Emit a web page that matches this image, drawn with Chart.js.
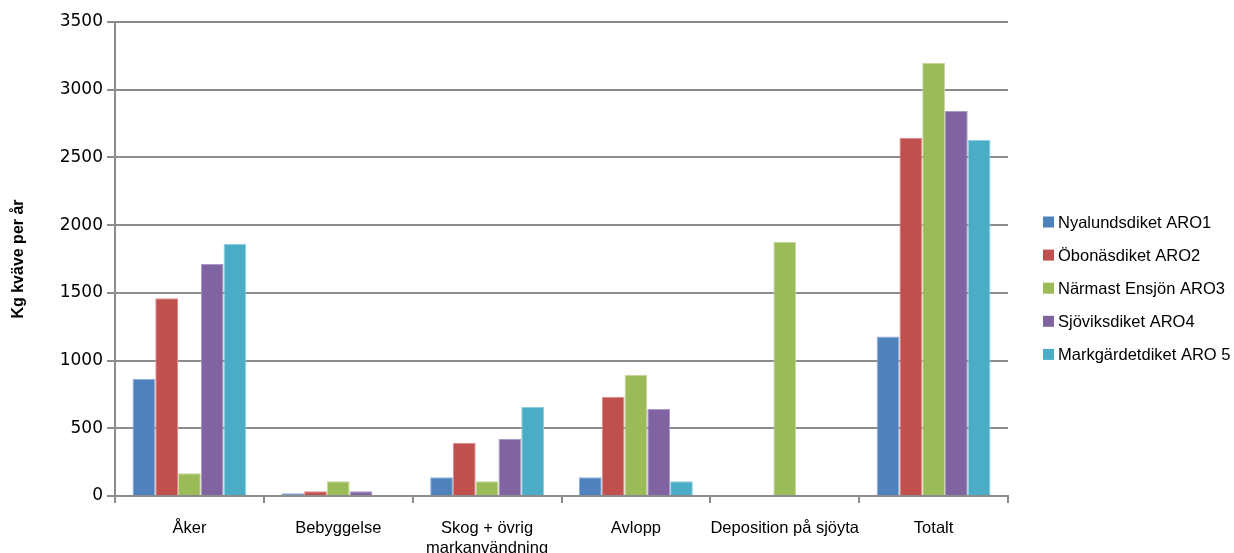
<!DOCTYPE html>
<html>
<head>
<meta charset="utf-8">
<script src="https://cdn.jsdelivr.net/npm/chart.js@4/dist/chart.umd.min.js"></script>
<style>
  html, body { margin: 0; padding: 0; background: #fff; }
  #wrap { width: 1234px; height: 553px; position: relative; }
</style>
</head>
<body>
<div id="wrap"><canvas id="c" width="1234" height="553"></canvas></div>
<script>
// Kväve (kg per år) per källa och delavrinningsområde
const categories = ['Åker', 'Bebyggelse', ['Skog + övrig', 'markanvändning'], 'Avlopp', 'Deposition på sjöyta', 'Totalt'];
const seriesNames = ['Nyalundsdiket ARO1', 'Öbonäsdiket ARO2', 'Närmast Ensjön ARO3', 'Sjöviksdiket ARO4', 'Markgärdetdiket ARO 5'];
const aro1 = [866, 20, 139, 139, 0, 1177];
const aro2 = [1461, 35, 391, 732, 0, 2645];
const aro3 = [168, 109, 109, 895, 1877, 3198];
const aro4 = [1713, 35, 420, 643, 0, 2842];
const aro5 = [1862, 0, 658, 109, 0, 2629];
const yTicks = [0, 500, 1000, 1500, 2000, 2500, 3000, 3500];
const yTitle = 'Kg kväve per år';

const fills = ['#4F81BD', '#C0504D', '#9BBB59', '#8064A2', '#4BACC6'];
const edges = ['#8fb0d8', '#dc8c8a', '#c4d99b', '#ab98c4', '#8fd0e0'];
const seriesValues = [aro1, aro2, aro3, aro4, aro5];

const gridGrey = '#8c8c8c';

// Legend drawn to the right of the plot, one row per series
const sideLegend = {
  id: 'sideLegend',
  afterDraw(chart) {
    const ctx = chart.ctx;
    ctx.save();
    ctx.font = '16.5px "Liberation Sans", Arial, sans-serif';
    ctx.textBaseline = 'middle';
    ctx.textAlign = 'left';
    chart.data.datasets.forEach((ds, i) => {
      const y = 222 + i * 33.1;
      ctx.fillStyle = ds.backgroundColor;
      ctx.fillRect(1043, y - 5.5, 11, 11);
      ctx.fillStyle = '#000';
      ctx.fillText(ds.label, 1058, y + 1);
    });
    ctx.restore();
  }
};

new Chart(document.getElementById('c'), {
  type: 'bar',
  data: {
    labels: categories,
    datasets: seriesNames.map((name, i) => ({
      label: name,
      data: seriesValues[i],
      backgroundColor: fills[i],
      borderColor: edges[i],
      borderWidth: 1,
      borderSkipped: 'bottom',
      barPercentage: 1.0,
      categoryPercentage: 0.765
    }))
  },
  options: {
    responsive: false,
    animation: false,
    devicePixelRatio: 1,
    layout: { padding: { top: 22, right: 226, bottom: 0, left: 0 } },
    plugins: {
      legend: { display: false },
      tooltip: { enabled: false }
    },
    scales: {
      x: {
        afterFit(scale) { scale.height = 57; },
        grid: {
          offset: true,
          drawOnChartArea: false,
          drawTicks: true,
          tickLength: 7,
          color: gridGrey,
          lineWidth: 2
        },
        border: { display: true, color: gridGrey, width: 2 },
        ticks: {
          color: '#000',
          padding: 16,
          maxRotation: 0,
          autoSkip: false,
          font: { family: '"Liberation Sans", Arial, sans-serif', size: 16.5, lineHeight: 1.2 }
        }
      },
      y: {
        min: 0,
        max: 3500,
        afterFit(scale) { scale.width = 115; },
        afterBuildTicks(scale) { scale.ticks = yTicks.map(v => ({ value: v })); },
        grid: {
          color: gridGrey,
          lineWidth: 2,
          tickLength: 8
        },
        border: { display: true, color: gridGrey, width: 2 },
        ticks: {
          color: '#000',
          padding: 4,
          callback: (v) => String(v),
          font: { family: '"DejaVu Sans", sans-serif', size: 17 }
        },
        title: {
          display: true,
          text: yTitle,
          color: '#000',
          padding: { top: 9, bottom: 0 },
          font: { family: '"Liberation Sans", Arial, sans-serif', size: 16, weight: 'bold' }
        }
      }
    }
  },
  plugins: [sideLegend]
});
</script>
</body>
</html>
